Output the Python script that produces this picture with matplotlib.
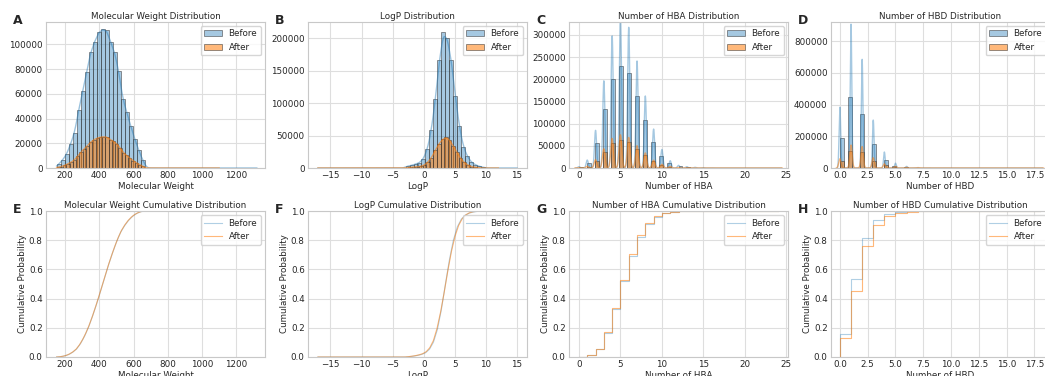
import numpy as np
import matplotlib.pyplot as plt
from matplotlib.colors import to_rgba

# ---- values ----
# continuous features: 50 bins over each series' own range, counts of the
# leading bins (the remaining bins are empty)
mw_before_range = (150, 1320)
mw_before_counts = [3000, 6500, 11000, 19500, 28500, 46600, 62000, 77700, 93500, 102000,
                    109700, 112000, 111400, 101600, 93500, 78600, 56000, 45500, 33900,
                    23600, 14400, 6500]
mw_after_range = (150, 1100)
mw_after_counts = [600, 1200, 2100, 3400, 4700, 6400, 9800, 12800, 15500, 18000, 21000,
                   22800, 24200, 25000, 25200, 25000, 23000, 21500, 19500, 16500, 12500,
                   10200, 8000, 6000, 4200, 2800, 1300]

logp_before_range = (-17, 15)
logp_before_first_bin = 22
logp_before_counts = [3000, 4000, 6000, 8000, 14000, 29000, 59000, 106000, 166000, 209000,
                      200000, 166000, 111000, 64000, 33000, 18000, 9000, 5000, 2500, 1000]
logp_after_range = (-17, 12)
logp_after_first_bin = 24
logp_after_counts = [700, 1000, 1300, 1800, 2500, 4500, 9000, 16000, 27000, 37000, 44000,
                     47500, 43000, 34000, 24000, 15000, 8500, 4500, 2200, 1100, 600]

# discrete features: number of molecules per integer value
hba_values = list(range(25))
hba_before = [2000, 12000, 57000, 132000, 200000, 230000, 213000, 162000, 109000, 59000,
              28000, 11000, 4000, 2000, 1000, 500, 200, 100, 50, 30, 20, 10, 5, 2, 1]
hba_after = [500, 3000, 16000, 37000, 57000, 64000, 59000, 43000, 29000, 15000, 7000,
             3000, 1000, 500, 200, 100, 50, 20, 10, 5, 2, 1, 1, 1, 1]

hbd_values = list(range(19))
hbd_before = [190000, 450000, 340000, 150000, 50000, 15000, 5000, 1500, 500, 200, 100,
              50, 20, 10, 5, 2, 1, 1, 1]
hbd_after = [42000, 105000, 98500, 47000, 18700, 7100, 2600, 1200, 500, 200, 100, 50,
             20, 10, 5, 2, 1, 1, 1]

labels = ['Before', 'After']
N_BINS = 50

BLUE = '#1f77b4'
ORANGE = '#ff7f0e'

plt.rcParams.update({
    'font.family': ['DejaVu Sans'],
    'font.size': 6.3,
    'axes.titlesize': 6.3,
    'axes.labelsize': 6.3,
    'legend.fontsize': 6.3,
    'axes.edgecolor': '#c8c8c8',
    'axes.linewidth': 0.8,
    'grid.color': '#dedede',
    'grid.linewidth': 0.8,
    'xtick.major.size': 0,
    'ytick.major.size': 0,
    'xtick.major.pad': 2.2,
    'ytick.major.pad': 2.4,
    'text.color': '#262626',
    'axes.labelcolor': '#262626',
    'xtick.color': '#262626',
    'ytick.color': '#262626',
    'axes.titlepad': 2.0,
    'axes.labelpad': 1.2,
})


def full_counts(counts, first=0):
    c = np.zeros(N_BINS)
    c[first:first + len(counts)] = counts
    return c


def draw_bars(ax, edges, counts, color, alpha, label):
    keep = counts > 0
    return ax.bar(edges[:-1][keep], counts[keep], width=np.diff(edges)[keep], align='edge',
                  facecolor=to_rgba(color, alpha), edgecolor=to_rgba('#333333', 0.6),
                  linewidth=0.6, label=label)


def smooth(xs, centers, weights, bw, binw):
    # gaussian kde scaled to counts
    z = (xs[:, None] - centers[None, :]) / bw
    dens = (np.exp(-0.5 * z ** 2) * weights[None, :]).sum(axis=1) / (bw * np.sqrt(2 * np.pi))
    return dens * binw


def continuous_panel(ax, series):
    for (rng, counts), color, alpha, label in zip(series, [BLUE, ORANGE], [0.4, 0.55], labels):
        edges = np.linspace(rng[0], rng[1], N_BINS + 1)
        binw = edges[1] - edges[0]
        draw_bars(ax, edges, counts, color, alpha, label)
        centers = 0.5 * (edges[:-1] + edges[1:])
        xs = np.linspace(rng[0], rng[1], 600)
        ax.plot(xs, smooth(xs, centers, counts, 0.6 * binw, binw), color=color,
                alpha=alpha + 0.05, lw=1.0)


def discrete_panel(ax, values, series):
    values = np.asarray(values, float)
    for counts, color, alpha, label in zip(series, [BLUE, ORANGE], [0.4, 0.55], labels):
        counts = np.asarray(counts, float)
        nz = values[counts > 0]
        edges = np.linspace(nz.min(), nz.max(), N_BINS + 1)
        binw = edges[1] - edges[0]
        h, _ = np.histogram(values, bins=edges, weights=counts)
        draw_bars(ax, edges, h, color, alpha, label)
        n = counts.sum()
        mean = (values * counts).sum() / n
        std = np.sqrt(((values - mean) ** 2 * counts).sum() / n)
        bw = std * n ** (-1 / 5)
        xs = np.linspace(nz.min() - 3 * bw, nz.max() + 3 * bw, 4000)
        ax.plot(xs, smooth(xs, values, counts, bw, binw), color=color, alpha=alpha, lw=1.0)


def ecdf_continuous(ax, series):
    for (rng, counts), color, alpha, label in zip(series, [BLUE, ORANGE], [0.35, 0.55], labels):
        edges = np.linspace(rng[0], rng[1], N_BINS + 1)
        y = np.r_[0, np.cumsum(counts)] / np.sum(counts)
        ax.plot(edges, y, color=color, alpha=alpha, lw=0.8, label=label)


def ecdf_discrete(ax, values, series):
    values = np.asarray(values, float)
    for counts, color, alpha, label in zip(series, [BLUE, ORANGE], [0.35, 0.55], labels):
        counts = np.asarray(counts, float)
        y = np.cumsum(counts) / counts.sum()
        ax.plot(np.r_[values[0], values], np.r_[0, y], drawstyle='steps-post',
                color=color, alpha=alpha, lw=0.8, label=label)


W, H = 1045, 376
fig = plt.figure(figsize=(W / 100, H / 100), dpi=100)

lefts = [46, 308, 569, 831]
ax_w = 219
rows = [(21.5, 168), (211, 357)]

axes = []
for top, bottom in rows:
    row = []
    for left in lefts:
        ax = fig.add_axes([left / W, 1 - bottom / H, ax_w / W, (bottom - top) / H])
        ax.set_axisbelow(True)
        ax.grid(True)
        row.append(ax)
    axes.append(row)

mw_series = [(mw_before_range, full_counts(mw_before_counts)),
             (mw_after_range, full_counts(mw_after_counts))]
logp_series = [(logp_before_range, full_counts(logp_before_counts, logp_before_first_bin)),
               (logp_after_range, full_counts(logp_after_counts, logp_after_first_bin))]

continuous_panel(axes[0][0], mw_series)
continuous_panel(axes[0][1], logp_series)
discrete_panel(axes[0][2], hba_values, [hba_before, hba_after])
discrete_panel(axes[0][3], hbd_values, [hbd_before, hbd_after])

ecdf_continuous(axes[1][0], mw_series)
ecdf_continuous(axes[1][1], logp_series)
ecdf_discrete(axes[1][2], hba_values, [hba_before, hba_after])
ecdf_discrete(axes[1][3], hbd_values, [hbd_before, hbd_after])

names = ['Molecular Weight', 'LogP', 'Number of HBA', 'Number of HBD']
xlims = [(88, 1368), (-18.6, 16.6), (-1.2, 25.2), (-0.8, 18.9)]
ylims = [118400, 225800, 330200, 925000]

for i, name in enumerate(names):
    top_ax, bot_ax = axes[0][i], axes[1][i]
    top_ax.set_title(f'{name} Distribution')
    top_ax.set_xlabel(name)
    top_ax.set_xlim(*xlims[i])
    top_ax.set_ylim(0, ylims[i])
    top_ax.legend(loc='upper right')

    bot_ax.set_title(f'{name} Cumulative Distribution')
    bot_ax.set_xlabel(name)
    bot_ax.set_ylabel('Cumulative Probability')
    bot_ax.set_xlim(*xlims[i])
    bot_ax.set_ylim(0, 1)
    bot_ax.legend(loc='upper right')

letters = 'ABCDEFGH'
for r, (top, bottom) in enumerate(rows):
    for c, left in enumerate(lefts):
        fig.text((left - 33) / W, 1 - (top + 2) / H, letters[r * 4 + c],
                 fontsize=9, fontweight='bold', va='baseline')

fig.savefig('out.png', dpi=100)
